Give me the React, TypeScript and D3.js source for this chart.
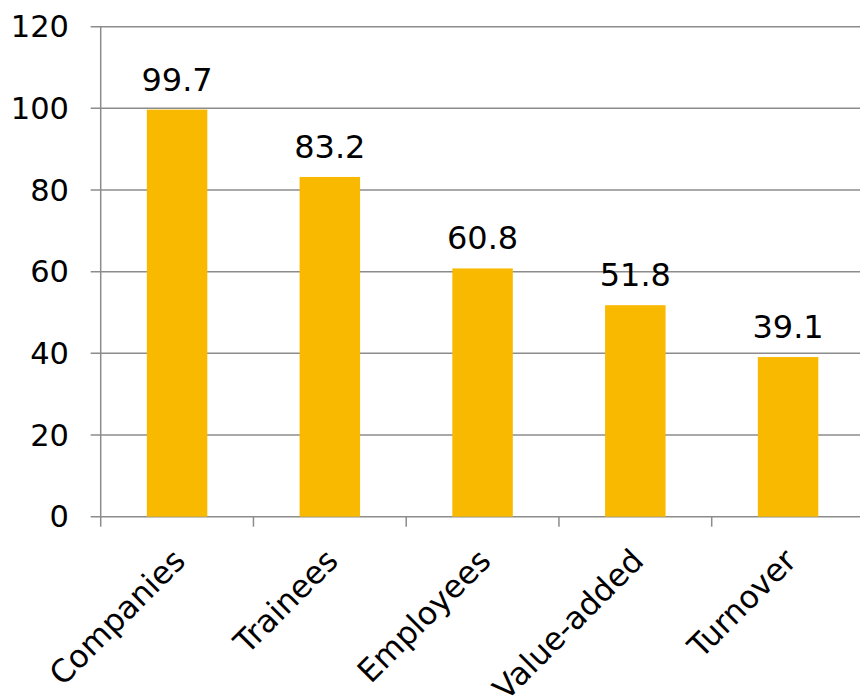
import React from "react";
import * as d3 from "d3";

const categories = ["Companies", "Trainees", "Employees", "Value-added", "Turnover"];
const values = [99.7, 83.2, 60.8, 51.8, 39.1];
const yTicks = [0, 20, 40, 60, 80, 100, 120];

const W = 860;
const H = 697;
const FONT = "'DejaVu Sans', Verdana, sans-serif";
const BAR = "#F9B900";
const GRID = "#8C8C8C";

export default function App() {
  const left = 100.7;
  const step = 152.75;
  const right = left + step * categories.length;

  const y = d3.scaleLinear().domain([0, 120]).range([516.7, 26.7]);
  const bands = d3.scaleBand<string>().domain(categories).range([left, right]).padding(0);
  const bars = d3
    .scaleBand<string>()
    .domain(categories)
    .range([left, right])
    .paddingInner(0.604)
    .paddingOuter(0.302);

  const y0 = y(0);

  return (
    <svg
      width={W}
      height={H}
      style={{ position: "absolute", left: 0, top: 0, background: "#fff" }}
      fontFamily={FONT}
    >
      {/* horizontal gridlines with outward ticks */}
      {yTicks.map((t) => (
        <g key={t}>
          <line x1={left - 10} x2={W} y1={y(t)} y2={y(t)} stroke={GRID} strokeWidth={1.5} />
          <text
            x={69}
            y={y(t)}
            textAnchor="end"
            dominantBaseline="central"
            fontSize={30.5}
            fill="#000"
          >
            {t}
          </text>
        </g>
      ))}

      {/* y axis */}
      <line x1={left} x2={left} y1={y(120)} y2={y0} stroke={GRID} strokeWidth={1.5} />

      {/* category ticks at band boundaries */}
      {categories.map((c) => (
        <line
          key={c}
          x1={bands(c)!}
          x2={bands(c)!}
          y1={y0}
          y2={y0 + 10}
          stroke={GRID}
          strokeWidth={1.5}
        />
      ))}

      {/* bars and value labels */}
      {categories.map((c, i) => {
        const x = bars(c)!;
        const bw = bars.bandwidth();
        return (
          <g key={c}>
            <rect x={x} y={y(values[i])} width={bw} height={y0 - y(values[i])} fill={BAR} />
            <text
              x={x + bw / 2}
              y={y(values[i]) - 19}
              textAnchor="middle"
              fontSize={32}
              fill="#000"
            >
              {values[i].toFixed(1)}
            </text>
          </g>
        );
      })}

      {/* rotated category labels */}
      {categories.map((c) => {
        const cx = bands(c)! + bands.bandwidth() / 2;
        return (
          <text
            key={c}
            transform={`translate(${cx + 10},${y0 + 46}) rotate(-45)`}
            textAnchor="end"
            fontSize={31.5}
            fill="#000"
          >
            {c}
          </text>
        );
      })}
    </svg>
  );
}
